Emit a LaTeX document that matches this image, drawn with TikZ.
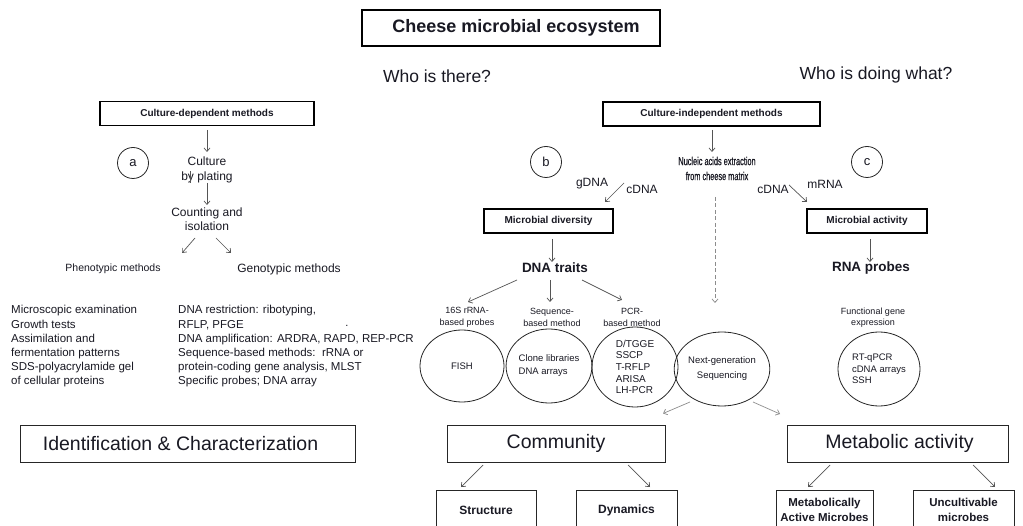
\documentclass[tikz,border=0pt]{standalone}
\usepackage{fontspec}
\setmainfont{Liberation Sans}
\newfontfamily\narrowfont[FakeStretch=0.64,FakeBold=0.6]{Liberation Sans}
\usetikzlibrary{arrows.meta,shapes.geometric}
\definecolor{txt}{RGB}{25,25,35}
\definecolor{arr}{RGB}{85,85,85}
\definecolor{larr}{RGB}{140,140,140}
\newcommand{\fsz}[2]{\fontsize{#1}{#2}\selectfont}
\begin{document}
\begin{tikzpicture}[x=1pt,y=-1pt,
  every node/.style={text=txt, inner sep=0pt},
  tbox/.style={draw=black, line width=1.4pt, rectangle},
  bbox/.style={draw=black!85, line width=0.8pt, rectangle},
  lett/.style={draw=black!85, line width=0.8pt, circle, minimum size=31pt, font=\fsz{13}{13}},
  ell/.style={draw=black!85, line width=0.8pt, ellipse},
  conn/.style={draw=arr, line width=0.7pt, -{Straight Barb[length=3.5pt,width=6pt]}},
  lconn/.style={draw=larr, line width=0.7pt, -{Straight Barb[length=3.5pt,width=6pt]}}
]
\useasboundingbox (0,0) rectangle (1023,526);
\clip (0,0) rectangle (1023,526);
\fill[white] (0,0) rectangle (1023,526);

% top
\node[tbox, minimum width=298pt, minimum height=36pt, font=\fsz{18}{18}\bfseries] (title) at (511,28) {\hspace*{10pt}Cheese microbial ecosystem};
\node[font=\fsz{17.5}{18}] (who1) at (437,76) {Who is there?};
\node[font=\fsz{17.5}{18}] (who2) at (876,75) {Who is doing what?};

% left branch
\node[tbox, minimum width=214pt, minimum height=24pt, font=\fsz{10}{10}\bfseries] (cdm) at (207,113.5) {Culture-dependent methods};
\node[lett] (circA) at (133,163) {a};
\node[font=\fsz{12}{15}, align=center] (culture) at (207,169.5) {Culture\\by plating};
\node[font=\fsz{12}{14}, align=center] (count) at (207,219) {Counting and\\isolation};
\node[font=\fsz{10.5}{12}] (pheno) at (113,269) {Phenotypic methods};
\node[font=\fsz{12}{12}] (geno) at (289,269) {Genotypic methods};
\node[font=\fsz{11.5}{14.2}, align=left, anchor=west] (leftlist) at (11,346.5) {Microscopic examination\\Growth tests\\Assimilation and\\fermentation patterns\\SDS-polyacrylamide gel\\of cellular proteins};
\node[font=\fsz{11.5}{14.2}, align=left, anchor=west] (midlist) at (178,346.5) {DNA restriction: ribotyping,\\RFLP, PFGE\\DNA amplification: ARDRA, RAPD, REP-PCR\\Sequence-based methods:\ \ rRNA or\\protein-coding gene analysis, MLST\\Specific probes; DNA array};
\node[font=\fsz{11}{11}] (dot) at (347,326) {.};
\node[bbox, minimum width=335pt, minimum height=37pt, font=\fsz{19.5}{20}] (ident) at (187.5,443.5) {Identification \& Characterization\hspace*{14pt}};

\draw[conn] ([shift={(0,16.5)}]cdm.center) -- ([shift={(0,-17.5)}]culture.center);
\draw[conn] ([shift={(0,13.5)}]culture.center) -- ([shift={(0,-14)}]count.center);
\draw[arr, line width=0.7pt] ([shift={(-17,2)}]culture.center) -- ([shift={(-17,14)}]culture.center);
\draw[conn] ([shift={(-12,19)}]count.center) -- ([shift={(69,-16)}]pheno.center);
\draw[conn] ([shift={(9,19)}]count.center) -- ([shift={(-58,-16)}]geno.center);

% right branch
\node[tbox, minimum width=217pt, minimum height=24pt, font=\fsz{10}{10}\bfseries] (cim) at (711.5,114) {Culture-independent methods};
\node[font=\narrowfont\fsz{11.5}{15}, align=center] (nucleic) at (717,168.5) {Nucleic acids extraction\\from cheese matrix};
\node[lett] (circB) at (546,162) {b};
\node[lett] (circC) at (867,162) {c};
\node[font=\fsz{12}{12}] (gdna) at (592,184) {gDNA};
\node[font=\fsz{12}{12}] (cdna1) at (642,189) {cDNA};
\node[font=\fsz{12}{12}] (cdna2) at (773,189) {cDNA};
\node[font=\fsz{12}{12}] (mrna) at (825,184) {mRNA};
\node[tbox, minimum width=129pt, minimum height=24pt, font=\fsz{10}{10}\bfseries] (div) at (548.5,221) {Microbial diversity};
\node[tbox, minimum width=120pt, minimum height=24pt, font=\fsz{10}{10}\bfseries] (act) at (867,221) {Microbial activity};
\node[font=\fsz{13.5}{14}\bfseries] (dnat) at (555,268) {DNA traits};
\node[font=\fsz{13.5}{14}\bfseries] (rnap) at (871,268) {RNA probes};
\node[font=\fsz{9}{12}, align=center] (lab16) at (467,317) {16S rRNA-\\based probes};
\node[font=\fsz{9}{12}, align=center] (labSeq) at (552,317) {Sequence-\\based method};
\node[font=\fsz{9}{12}, align=center] (labPCR) at (632,317) {PCR-\\based method};
\node[font=\fsz{9}{11}, align=center] (labFunc) at (873,317.5) {Functional gene\\expression};

\node[ell, minimum width=84pt, minimum height=72pt, font=\fsz{9.5}{12}] (fish) at (462,366) {FISH};
\node[ell, minimum width=84pt, minimum height=74pt, font=\fsz{9.5}{13}, align=left] (clone) at (549,366) {Clone libraries\\DNA arrays};
\node[ell, minimum width=86pt, minimum height=80pt, font=\fsz{10}{11.6}, align=left] (pcr) at (635,367) {D/TGGE\\SSCP\\T-RFLP\\ARISA\\LH-PCR};
\node[ell, minimum width=84pt, minimum height=74pt, font=\fsz{9.5}{15}, align=center] (ngs) at (722,369) {Next-generation\\Sequencing};
\node[ell, minimum width=82pt, minimum height=74pt, font=\fsz{9.5}{11.5}, align=left] (rt) at (879,369) {RT-qPCR\\cDNA arrays\\SSH};

\draw[conn] ([shift={(0.5,16)}]cim.center) -- ([shift={(-5,-16.5)}]nucleic.center);
\draw[lconn, dashed, dash pattern=on 4pt off 2.5pt] ([shift={(-2,28.5)}]nucleic.center) -- ([shift={(-7,-66)}]ngs.center);
\draw[conn] ([shift={(-18,-6)}]cdna1.center) -- ([shift={(56.5,-19)}]div.center);
\draw[conn] ([shift={(16,-4)}]cdna2.center) -- ([shift={(-60,-19)}]act.center);
\draw[conn] ([shift={(3.5,18)}]div.center) -- ([shift={(-3,-6)}]dnat.center);
\draw[conn] ([shift={(-38,12)}]dnat.center) -- ([shift={(1,-15)}]lab16.center);
\draw[conn] ([shift={(-5,12)}]dnat.center) -- ([shift={(-2,-15)}]labSeq.center);
\draw[conn] ([shift={(27,12)}]dnat.center) -- ([shift={(-10,-17)}]labPCR.center);
\draw[conn] ([shift={(3,18)}]act.center) -- ([shift={(-1,-6)}]rnap.center);

% bottom
\node[bbox, minimum width=218pt, minimum height=37pt, font=\fsz{19.5}{20}] (community) at (556,443.5) {Community};
\node[bbox, minimum width=221pt, minimum height=37pt, font=\fsz{19.5}{20}] (metab) at (897.5,443.5) {\hspace*{4pt}Metabolic activity};
\node[bbox, minimum width=100pt, minimum height=40pt, font=\fsz{12}{12}\bfseries] (structure) at (486,510) {Structure};
\node[bbox, minimum width=101pt, minimum height=40pt, font=\fsz{12}{12}\bfseries] (dynamics) at (626.5,510) {Dynamics};
\node[bbox, minimum width=97pt, minimum height=40pt, font=\fsz{11.5}{15}\bfseries, align=center] (metabact) at (824.5,510) {Metabolically\\Active Microbes};
\node[bbox, minimum width=101pt, minimum height=40pt, font=\fsz{11.5}{15}\bfseries, align=center] (uncult) at (963.5,510) {Uncultivable\\microbes};

\draw[lconn] ([shift={(-32,33)}]ngs.center) -- ([shift={(107,-30)}]community.center);
\draw[lconn] ([shift={(31,33)}]ngs.center) -- ([shift={(-117.5,-29.5)}]metab.center);
\draw[conn] ([shift={(-73,21.5)}]community.center) -- ([shift={(-25,-23)}]structure.center);
\draw[conn] ([shift={(72,21.5)}]community.center) -- ([shift={(23.5,-23)}]dynamics.center);
\draw[conn] ([shift={(-67.5,21.5)}]metab.center) -- ([shift={(-16.5,-23)}]metabact.center);
\draw[conn] ([shift={(75.5,21.5)}]metab.center) -- ([shift={(31.5,-23)}]uncult.center);
\end{tikzpicture}
\end{document}
